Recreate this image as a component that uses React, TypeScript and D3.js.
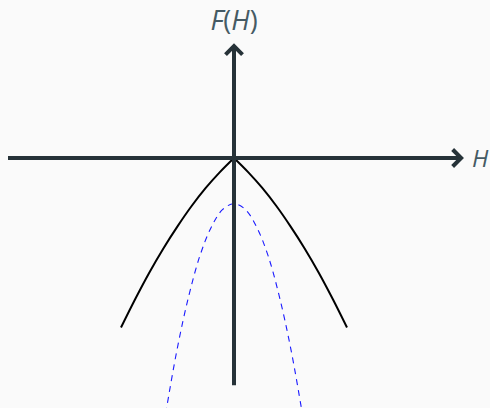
import React from "react";
import * as d3 from "d3";

// Free energy F(H): cusp at H = 0 (solid) and a smooth parabola (dashed)
const cuspH = [-2, -1.75, -1.5, -1.25, -1, -0.75, -0.5, -0.25, 0, 0.25, 0.5, 0.75, 1, 1.25, 1.5, 1.75, 2];
const cuspF = [-3.0, -2.5, -2.03, -1.6, -1.21, -0.85, -0.53, -0.25, 0, -0.25, -0.53, -0.85, -1.21, -1.6, -2.03, -2.5, -3.0];

const paraH = [-1.3, -1.2, -1.0, -0.8, -0.6, -0.4, -0.2, 0, 0.2, 0.4, 0.6, 0.8, 1.0, 1.2, 1.3];
const paraF = [-5.1, -4.47, -3.35, -2.44, -1.72, -1.22, -0.91, -0.81, -0.91, -1.22, -1.72, -2.44, -3.35, -4.47, -5.1];

// Axis extents
const hAxis = [-4, 4.02];
const fAxis = [-4.02, 1.98];

const W = 490;
const H = 408;
const axisColor = "#263238";
const labelColor = "#455a64";

export default function App() {
  const x = d3.scaleLinear().domain([-4, 4]).range([8, 460]);
  const y = d3.scaleLinear().domain([-4, 2]).range([384, 45]);

  const line = d3
    .line<[number, number]>()
    .x((d) => x(d[0]))
    .y((d) => y(d[1]))
    .curve(d3.curveCatmullRom);

  const left = cuspH.map((h, i) => [h, cuspF[i]] as [number, number]).filter((d) => d[0] <= 0);
  const right = cuspH.map((h, i) => [h, cuspF[i]] as [number, number]).filter((d) => d[0] >= 0);
  const para = paraH.map((h, i) => [h, paraF[i]] as [number, number]);

  const x0 = x(0);
  const y0 = y(0);
  const hx1 = x(hAxis[1]);
  const fy1 = y(fAxis[1]);
  const a = 8.5;

  return (
    <svg
      width={W}
      height={H}
      style={{ position: "absolute", left: 0, top: 0, display: "block" }}
    >
      <rect width={W} height={H} fill="#fafafa" />
      <clipPath id="plot">
        <rect width={W} height={H} />
      </clipPath>
      <g clipPath="url(#plot)" fill="none">
        <path d={line(para) ?? ""} stroke="#1a1aff" strokeWidth={1.1} strokeDasharray="6 5" />
        <path d={line(left) ?? ""} stroke="#000" strokeWidth={2} />
        <path d={line(right) ?? ""} stroke="#000" strokeWidth={2} />
      </g>
      <g stroke={axisColor} strokeWidth={4} fill="none">
        <line x1={x(hAxis[0])} y1={y0} x2={hx1} y2={y0} />
        <line x1={x0} y1={y(fAxis[0])} x2={x0} y2={fy1} />
        <path
          d={`M${hx1 - a},${y0 - a} L${hx1},${y0} L${hx1 - a},${y0 + a}`}
          strokeLinejoin="miter"
        />
        <path
          d={`M${x0 - a},${fy1 + a} L${x0},${fy1} L${x0 + a},${fy1 + a}`}
          strokeLinejoin="miter"
        />
      </g>
      <text
        x={x0}
        y={30}
        textAnchor="middle"
        fontFamily="'Open Sans', sans-serif"
        fontSize="27px"
        fill={labelColor}
      >
        <tspan fontStyle="italic">F</tspan>
        <tspan>(</tspan>
        <tspan fontStyle="italic">H</tspan>
        <tspan>)</tspan>
      </text>
      <text
        x={472}
        y={167}
        fontFamily="'Open Sans', sans-serif"
        fontSize="24px"
        fontStyle="italic"
        fill={labelColor}
      >
        H
      </text>
    </svg>
  );
}
